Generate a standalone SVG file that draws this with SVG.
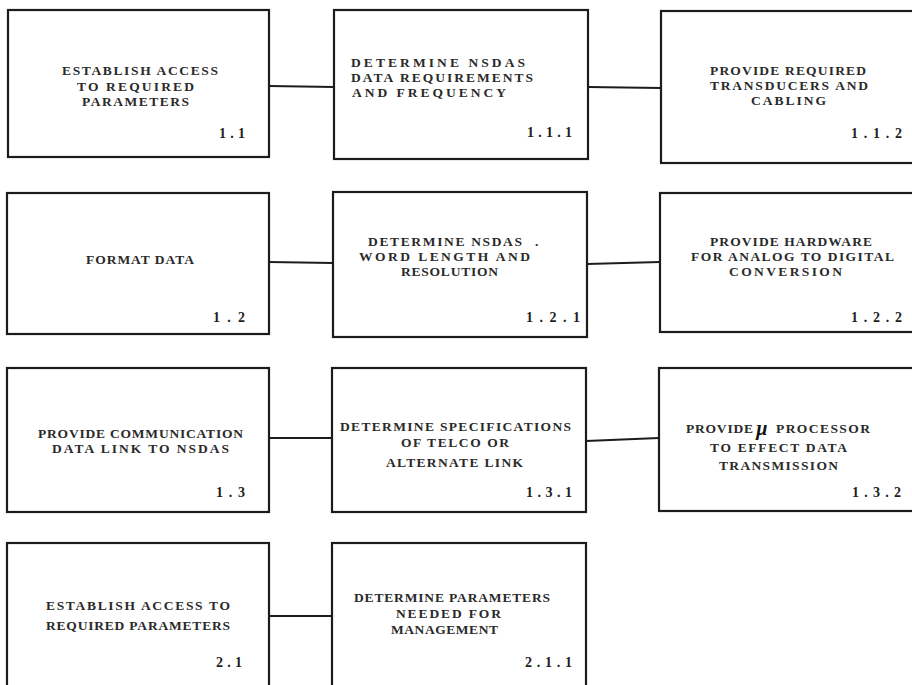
<svg xmlns="http://www.w3.org/2000/svg" width="912" height="685" viewBox="0 0 912 685">
  <style>
    .box { fill: #ffffff; stroke: #1c1c1c; stroke-width: 2.2; }
    .link { stroke: #1c1c1c; stroke-width: 2.2; fill: none; }
    .t { font-family: "Liberation Serif", "Times New Roman", serif; font-size: 13.5px; font-weight: bold; fill: #2a2a2a; }
    .num { font-family: "Liberation Serif", "Times New Roman", serif; font-size: 14px; font-weight: bold; fill: #1e1e1e; }
    .mark { font-family: "Liberation Serif", "Times New Roman", serif; font-size: 20px; font-weight: bold; font-style: italic; fill: #111111; }
  </style>
  <rect width="912" height="685" fill="#ffffff"/>

  <!-- connectors between task boxes -->
  <g id="connectors">
    <line class="link" x1="269" y1="86" x2="334" y2="87"/>
    <line class="link" x1="588" y1="87" x2="661" y2="88"/>
    <line class="link" x1="269" y1="262" x2="333" y2="263"/>
    <line class="link" x1="587" y1="264" x2="660" y2="262"/>
    <line class="link" x1="269" y1="438" x2="332" y2="438"/>
    <line class="link" x1="586" y1="441" x2="659" y2="438"/>
    <line class="link" x1="269" y1="616" x2="332" y2="616"/>
  </g>

  <!-- row 1 -->
  <g id="node-1-1">
    <rect class="box" x="8" y="10" width="261" height="147"/>
    <text class="t" x="62" y="75" textLength="156">ESTABLISH ACCESS</text>
    <text class="t" x="77" y="91" textLength="117">TO REQUIRED</text>
    <text class="t" x="82" y="106" textLength="107">PARAMETERS</text>
    <text class="num" x="219" y="138" textLength="26">1.1</text>
  </g>
  <g id="node-1-1-1">
    <rect class="box" x="334" y="10" width="254" height="149"/>
    <text class="t" x="351" y="67" textLength="174">DETERMINE NSDAS</text>
    <text class="t" x="351" y="82" textLength="182">DATA REQUIREMENTS</text>
    <text class="t" x="352" y="97" textLength="154">AND FREQUENCY</text>
    <text class="num" x="527" y="137" textLength="45">1.1.1</text>
  </g>
  <g id="node-1-1-2">
    <rect class="box" x="661" y="11" width="260" height="152"/>
    <text class="t" x="710" y="75" textLength="156">PROVIDE REQUIRED</text>
    <text class="t" x="710" y="90" textLength="158">TRANSDUCERS AND</text>
    <text class="t" x="751" y="105" textLength="75">CABLING</text>
    <text class="num" x="851" y="138" textLength="51">1.1.2</text>
  </g>

  <!-- row 2 -->
  <g id="node-1-2">
    <rect class="box" x="7" y="193" width="262" height="141"/>
    <text class="t" x="86" y="264" textLength="108">FORMAT DATA</text>
    <text class="num" x="213" y="322" textLength="32">1.2</text>
  </g>
  <g id="node-1-2-1">
    <rect class="box" x="333" y="192" width="254" height="145"/>
    <text class="t" x="368" y="246" textLength="154">DETERMINE NSDAS</text>
    <text class="t" x="535" y="246">.</text>
    <text class="t" x="359" y="261" textLength="171">WORD LENGTH AND</text>
    <text class="t" x="401" y="276" textLength="97">RESOLUTION</text>
    <text class="num" x="526" y="322" textLength="54">1.2.1</text>
  </g>
  <g id="node-1-2-2">
    <rect class="box" x="660" y="193" width="261" height="139"/>
    <text class="t" x="710" y="246" textLength="162">PROVIDE HARDWARE</text>
    <text class="t" x="691" y="261" textLength="203">FOR ANALOG TO DIGITAL</text>
    <text class="t" x="729" y="276" textLength="113">CONVERSION</text>
    <text class="num" x="851" y="322" textLength="51">1.2.2</text>
  </g>

  <!-- row 3 -->
  <g id="node-1-3">
    <rect class="box" x="7" y="368" width="262" height="144"/>
    <text class="t" x="38" y="438" textLength="205">PROVIDE COMMUNICATION</text>
    <text class="t" x="52" y="453" textLength="177">DATA LINK TO NSDAS</text>
    <text class="num" x="216" y="497" textLength="29">1.3</text>
  </g>
  <g id="node-1-3-1">
    <rect class="box" x="332" y="368" width="254" height="144"/>
    <text class="t" x="340" y="431" textLength="231">DETERMINE SPECIFICATIONS</text>
    <text class="t" x="401" y="447" textLength="108">OF TELCO OR</text>
    <text class="t" x="386" y="467" textLength="137">ALTERNATE LINK</text>
    <text class="num" x="526" y="497" textLength="46">1.3.1</text>
  </g>
  <g id="node-1-3-2">
    <rect class="box" x="659" y="368" width="262" height="143"/>
    <text class="t" x="686" y="433" textLength="67">PROVIDE</text>
    <text class="mark" x="756" y="435">µ</text>
    <text class="t" x="776" y="433" textLength="94">PROCESSOR</text>
    <text class="t" x="710" y="452" textLength="137">TO EFFECT DATA</text>
    <text class="t" x="719" y="470" textLength="119">TRANSMISSION</text>
    <text class="num" x="852" y="497" textLength="49">1.3.2</text>
  </g>

  <!-- row 4 -->
  <g id="node-2-1">
    <rect class="box" x="7" y="543" width="262" height="160"/>
    <text class="t" x="46" y="610" textLength="184">ESTABLISH ACCESS TO</text>
    <text class="t" x="46" y="630" textLength="184">REQUIRED PARAMETERS</text>
    <text class="num" x="216" y="667" textLength="26">2.1</text>
  </g>
  <g id="node-2-1-1">
    <rect class="box" x="332" y="543" width="254" height="160"/>
    <text class="t" x="354" y="602" textLength="196">DETERMINE PARAMETERS</text>
    <text class="t" x="396" y="618" textLength="105">NEEDED FOR</text>
    <text class="t" x="391" y="634" textLength="107">MANAGEMENT</text>
    <text class="num" x="525" y="667" textLength="47">2.1.1</text>
  </g>
</svg>
